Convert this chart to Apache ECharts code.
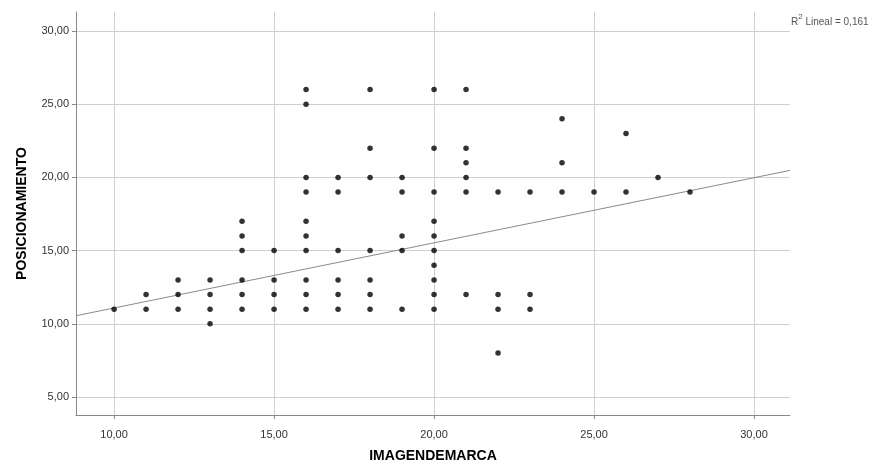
<!DOCTYPE html>
<html>
<head>
<meta charset="utf-8">
<script src="https://cdn.jsdelivr.net/npm/echarts@6/dist/echarts.min.js"></script>
<style>
  html, body { margin: 0; padding: 0; background: #fff; }
  #chart { width: 874px; height: 464px; }
</style>
</head>
<body>
<div id="chart"></div>
<script>
// IMAGENDEMARCA (x) vs POSICIONAMIENTO (y)
var imagenX = [
    10,
    11, 11,
    12, 12, 12,
    13, 13, 13, 13,
    14, 14, 14, 14, 14, 14,
    15, 15, 15, 15,
    16, 16, 16, 16, 16, 16, 16, 16, 16, 16,
    17, 17, 17, 17, 17, 17,
    18, 18, 18, 18, 18, 18, 18,
    19, 19, 19, 19, 19,
    20, 20, 20, 20, 20, 20, 20, 20, 20, 20,
    21, 21, 21, 21, 21, 21,
    22, 22, 22, 22,
    23, 23, 23,
    24, 24, 24,
    25,
    26, 26,
    27,
    28
];
var posicionY = [
    11,
    12, 11,
    13, 12, 11,
    13, 12, 11, 10,
    17, 16, 15, 13, 12, 11,
    15, 13, 12, 11,
    26, 25, 20, 19, 17, 16, 15, 13, 12, 11,
    20, 19, 15, 13, 12, 11,
    26, 22, 20, 15, 13, 12, 11,
    20, 19, 16, 15, 11,
    26, 22, 19, 17, 16, 15, 14, 13, 12, 11,
    26, 22, 21, 20, 19, 12,
    19, 12, 11, 8,
    19, 12, 11,
    24, 21, 19,
    19,
    23, 19,
    20,
    19
];

// linear fit line (R2 Lineal = 0,161)
var fitIntercept = 6.63;
var fitSlope = 0.445;

var xTicks = [10, 15, 20, 25, 30];
var yTicks = [5, 10, 15, 20, 25, 30];
var xRange = [8.81, 31.125];
var yRange = [3.77, 31.3];

var myChart = echarts.init(document.getElementById('chart'));

var pts = [];
for (var i = 0; i < imagenX.length; i++) {
    pts.push([imagenX[i], posicionY[i]]);
}
var fitLine = [
    [xRange[0], fitIntercept + fitSlope * xRange[0]],
    [xRange[1], fitIntercept + fitSlope * xRange[1]]
];

function coma(v) {
    return v.toFixed(2).replace('.', ',');
}

var option = {
    animation: false,
    textStyle: { fontFamily: 'Liberation Sans, Arial, sans-serif' },
    grid: { left: 76, right: 84, top: 12, bottom: 49, containLabel: false, outerBoundsMode: 'none' },
    xAxis: {
        type: 'value',
        min: xRange[0],
        max: xRange[1],
        name: 'IMAGENDEMARCA',
        nameLocation: 'middle',
        nameGap: 34,
        nameTextStyle: { fontSize: 14, fontWeight: 'bold', color: '#000' },
        axisLine: { show: true, lineStyle: { color: '#888', width: 1 } },
        axisTick: { show: true, length: 4, customValues: xTicks, lineStyle: { color: '#888' } },
        axisLabel: { customValues: xTicks, formatter: coma, fontSize: 11, color: '#333', margin: 14 },
        splitLine: { show: true, lineStyle: { color: '#cfcfcf', width: 1 } }
    },
    yAxis: {
        type: 'value',
        min: yRange[0],
        max: yRange[1],
        name: 'POSICIONAMIENTO',
        nameLocation: 'middle',
        nameRotate: 90,
        nameGap: 47,
        nameTextStyle: { fontSize: 14, fontWeight: 'bold', color: '#000' },
        axisLine: { show: true, lineStyle: { color: '#888', width: 1 } },
        axisTick: { show: true, length: 4, customValues: yTicks, lineStyle: { color: '#888' } },
        axisLabel: { customValues: yTicks, formatter: coma, fontSize: 11, color: '#333', margin: 7 },
        splitLine: { show: true, lineStyle: { color: '#cfcfcf', width: 1 } }
    },
    graphic: [{
        type: 'text',
        left: 791,
        top: 13,
        style: {
            text: '{r|R}{s|2}{r| Lineal = 0,161}',
            rich: {
                r: { fontSize: 10, fill: '#555', fontFamily: 'Liberation Sans', verticalAlign: 'bottom', lineHeight: 14 },
                s: { fontSize: 8, fill: '#555', fontFamily: 'Liberation Sans', verticalAlign: 'top', lineHeight: 14 }
            }
        }
    }],
    series: [
        {
            type: 'line',
            data: fitLine,
            symbol: 'none',
            silent: true,
            lineStyle: { color: '#8a8a8a', width: 1 },
            z: 1
        },
        {
            type: 'scatter',
            data: pts,
            symbolSize: 5.5,
            itemStyle: { color: '#000' },
            z: 2
        }
    ]
};

myChart.setOption(option);
</script>
</body>
</html>
